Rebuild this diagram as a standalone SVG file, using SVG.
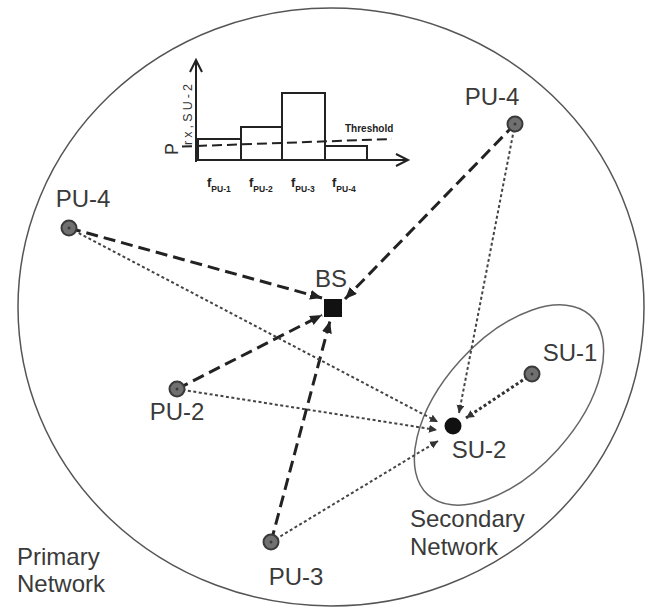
<svg xmlns="http://www.w3.org/2000/svg" width="654" height="611" viewBox="0 0 654 611">
<style>
.lbl{font-family:"Liberation Sans",Arial,sans-serif;font-size:24px;fill:#3a3a3a}
.pu{fill:#707070;stroke:#3a3a3a;stroke-width:2}
.dot{fill:#3a3a3a}
.ld{stroke:#222;stroke-width:3;fill:none;stroke-dasharray:12 6}
.sd{stroke:#444;stroke-width:2;fill:none;stroke-dasharray:3 2.5}
.hb{font-family:"Liberation Sans",Arial,sans-serif;font-weight:bold;fill:#222}
</style>
<defs>
<marker id="big" markerUnits="userSpaceOnUse" markerWidth="14" markerHeight="12" refX="12" refY="5" orient="auto"><path d="M0,0 L12,5 L0,10 z" fill="#222"/></marker>
<marker id="small" markerUnits="userSpaceOnUse" markerWidth="10" markerHeight="10" refX="8" refY="4" orient="auto"><path d="M0,0 L8,4 L0,8 z" fill="#333"/></marker>
</defs>
<rect width="654" height="611" fill="#fff"/>
<ellipse cx="331" cy="307" rx="313" ry="299" fill="none" stroke="#555" stroke-width="1.5"/>
<ellipse cx="509" cy="405" rx="121" ry="66" transform="rotate(-48 509 405)" fill="none" stroke="#666" stroke-width="1.5"/>

<g id="chart">
<path d="M196,162 V62" stroke="#222" stroke-width="2" fill="none"/>
<path d="M190,72 L196,60 L202,72" stroke="#222" stroke-width="2" fill="none"/>
<path d="M195,160 H406" stroke="#222" stroke-width="2" fill="none"/>
<path d="M396,154 L408,160 L396,166" stroke="#222" stroke-width="2" fill="none"/>
<rect x="198" y="139" width="43" height="21" fill="none" stroke="#222" stroke-width="2"/>
<rect x="241" y="127" width="41" height="33" fill="none" stroke="#222" stroke-width="2"/>
<rect x="282" y="93" width="43" height="67" fill="none" stroke="#222" stroke-width="2"/>
<rect x="325" y="146" width="42" height="14" fill="none" stroke="#222" stroke-width="2"/>
<path d="M182,146.5 L392,139" stroke="#222" stroke-width="2" stroke-dasharray="10 5" fill="none"/>
<text class="hb" x="345" y="132" font-size="10">Threshold</text>
<text class="hb" transform="translate(178,155) rotate(-90)" font-family="Liberation Sans,Arial,sans-serif" style="font-weight:normal;fill:#333"><tspan font-size="18">P</tspan><tspan font-size="12.5" dy="14" dx="-2" textLength="61" lengthAdjust="spacing">rx,SU-2</tspan></text>
<text class="hb" x="207" y="187" font-size="13">f<tspan font-size="8.5" dy="5">PU-1</tspan></text>
<text class="hb" x="249" y="187" font-size="13">f<tspan font-size="8.5" dy="5">PU-2</tspan></text>
<text class="hb" x="291" y="187" font-size="13">f<tspan font-size="8.5" dy="5">PU-3</tspan></text>
<text class="hb" x="332" y="187" font-size="13">f<tspan font-size="8.5" dy="5">PU-4</tspan></text>
</g>

<g id="connectors">
<line class="ld" x1="69" y1="228" x2="322" y2="298" marker-end="url(#big)"/>
<line class="ld" x1="515" y1="124" x2="345" y2="299" marker-end="url(#big)"/>
<line class="ld" x1="177" y1="389" x2="322" y2="315" marker-end="url(#big)"/>
<line class="ld" x1="271" y1="542" x2="330" y2="321" marker-end="url(#big)"/>
<line class="sd" x1="69" y1="228" x2="438" y2="422" marker-end="url(#small)"/>
<line class="sd" x1="515" y1="124" x2="459" y2="413" marker-end="url(#small)"/>
<line class="sd" x1="177" y1="389" x2="437" y2="430" marker-end="url(#small)"/>
<line class="sd" x1="271" y1="542" x2="438" y2="441" marker-end="url(#small)"/>
<line x1="532" y1="374" x2="466" y2="418" stroke="#333" stroke-width="3" stroke-dasharray="3 2.5" marker-end="url(#small)"/>
</g>

<g id="PU-4-right"><circle class="pu" cx="515" cy="124" r="7.5"/><circle class="dot" cx="515" cy="124" r="1.5"/><text class="lbl" x="492" y="105" text-anchor="middle">PU-4</text></g>
<g id="PU-4-left"><circle class="pu" cx="69" cy="228" r="7.5"/><circle class="dot" cx="69" cy="228" r="1.5"/><text class="lbl" x="83" y="207" text-anchor="middle">PU-4</text></g>
<g id="BS"><rect x="324" y="299" width="18" height="18" fill="#111"/><text class="lbl" x="331" y="287" text-anchor="middle">BS</text></g>
<g id="PU-2"><circle class="pu" cx="177" cy="389" r="7.5"/><circle class="dot" cx="177" cy="389" r="1.5"/><text class="lbl" x="177" y="420" text-anchor="middle">PU-2</text></g>
<g id="PU-3"><circle class="pu" cx="271" cy="542" r="7.5"/><circle class="dot" cx="271" cy="542" r="1.5"/><text class="lbl" x="296" y="585" text-anchor="middle">PU-3</text></g>
<g id="SU-1"><circle class="pu" cx="532" cy="374" r="7.5"/><circle class="dot" cx="532" cy="374" r="1.5"/><text class="lbl" x="570" y="361" text-anchor="middle">SU-1</text></g>
<g id="SU-2"><circle cx="453" cy="426" r="8.5" fill="#111"/><text class="lbl" x="479" y="458" text-anchor="middle">SU-2</text></g>
<g id="secondary-label"><text class="lbl" x="410" y="527">Secondary</text><text class="lbl" x="410" y="555">Network</text></g>
<g id="primary-label"><text class="lbl" x="17" y="565">Primary</text><text class="lbl" x="17" y="592">Network</text></g>
</svg>
